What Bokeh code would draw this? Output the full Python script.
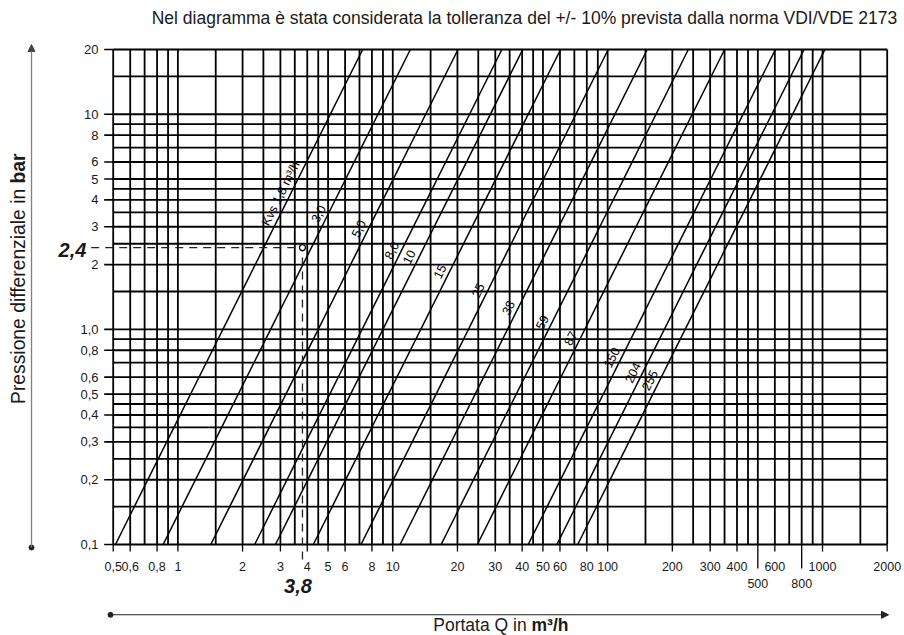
import math
from bokeh.plotting import figure
from bokeh.models import Range1d, Arrow, NormalHead, ColumnDataSource
from bokeh.core.properties import value
from bokeh.embed import file_html
from bokeh.resources import INLINE

# ---------------- data ----------------
title_text = "Nel diagramma è stata considerata la tolleranza del +/- 10% prevista dalla norma VDI/VDE 2173"
kvs = [1.8, 3.0, 5.0, 8.0, 10, 15, 25, 38, 59, 87, 150, 204, 255]
kvs_labels = ["Kvs 1,8 m³/h", "3,0", "5,0", "8,0", "10", "15", "25", "38", "59", "87", "150", "204", "255"]
tolerance = 0.10
label_dp = [4.28, 3.45, 2.94, 2.33, 2.17, 1.86, 1.52, 1.26, 1.08, 0.91, 0.74, 0.63, 0.58]

q_range = [0.5, 2000]
dp_range = [0.1, 20]

x_ticks = [0.5, 0.6, 0.8, 1, 2, 3, 4, 5, 6, 8, 10, 20, 30, 40, 50, 60, 80, 100,
           200, 300, 400, 600, 1000, 2000]
x_tick_labels = ["0,5", "0,6", "0,8", "1", "2", "3", "4", "5", "6", "8", "10", "20", "30",
                 "40", "50", "60", "80", "100", "200", "300", "400", "600", "1000", "2000"]
x_low_ticks = [500, 800]
x_low_labels = ["500", "800"]
y_ticks = [0.1, 0.2, 0.3, 0.4, 0.5, 0.6, 0.8, 1, 2, 3, 4, 5, 6, 8, 10, 20]
y_tick_labels = ["0,1", "0,2", "0,3", "0,4", "0,5", "0,6", "0,8", "1,0", "2", "3", "4",
                 "5", "6", "8", "10", "20"]
x_grid = [0.5, 0.6, 0.7, 0.8, 0.9, 1, 1.5, 2, 2.5, 3, 3.5, 4, 4.5, 5, 6, 7, 8, 9, 10,
          15, 20, 25, 30, 35, 40, 45, 50, 60, 70, 80, 90, 100, 150, 200, 250, 300, 350,
          400, 450, 500, 600, 700, 800, 900, 1000, 1500, 2000]
y_grid = [0.1, 0.15, 0.2, 0.25, 0.3, 0.35, 0.4, 0.45, 0.5, 0.6, 0.7, 0.8, 0.9, 1, 1.5,
          2, 2.5, 3, 3.5, 4, 4.5, 5, 6, 7, 8, 9, 10, 15, 20]
example_q = 3.8
example_dp = 2.4
example_q_label = "3,8"
example_dp_label = "2,4"
x_title = ["Portata Q in ", "m³/h"]
y_title = ["Pressione differenziale in ", "bar"]

# ---------------- layout (pixels) ----------------
W, H = 904, 635
GX0, GX1 = 112.7, 886.7      # pixel x of q_range ends
GY0, GY1 = 544.0, 49.0       # pixel y of dp_range ends
FONT = "Liberation Sans"
INK = "#1a1a1a"
q0, q1 = q_range
d0, d1 = dp_range


def xd(px):
    return q0 * (q1 / q0) ** ((px - GX0) / (GX1 - GX0))


def yd(py):
    return d0 * (d1 / d0) ** ((GY0 - py) / (GY0 - GY1))


p = figure(width=W, height=H, x_axis_type="log", y_axis_type="log",
           x_range=Range1d(xd(0), xd(W)), y_range=Range1d(yd(H), yd(0)),
           x_axis_location=None, y_axis_location=None, title=None,
           output_backend="svg", toolbar_location=None, min_border=0)
p.background_fill_color = "white"
p.border_fill_color = "white"
p.outline_line_color = None
p.grid.visible = False

# grid
p.segment(x0=x_grid, y0=[d0] * len(x_grid), x1=x_grid, y1=[d1] * len(x_grid),
          line_color="black", line_width=1.8)
p.segment(x0=[q0] * len(y_grid), y0=y_grid, x1=[q1] * len(y_grid), y1=y_grid,
          line_color="black", line_width=1.8)

# ticks
p.segment(x0=x_ticks, y0=[d0] * len(x_ticks), x1=x_ticks, y1=[yd(GY0 + 7)] * len(x_ticks),
          line_color="black", line_width=1.3)
p.segment(x0=x_low_ticks, y0=[d0] * 2, x1=x_low_ticks, y1=[yd(GY0 + 24)] * 2,
          line_color="black", line_width=1.3)
p.segment(x0=[q0] * len(y_ticks), y0=y_ticks, x1=[xd(GX0 - 9)] * len(y_ticks), y1=y_ticks,
          line_color="black", line_width=1.6)

tick_txt = dict(text_font=value(FONT), text_color=INK, text_baseline="middle")
p.text(x=x_ticks, y=[yd(566)] * len(x_ticks), text=x_tick_labels, text_align="center",
       text_font_size="12.5px", **tick_txt)
p.text(x=x_low_ticks, y=[yd(583)] * 2, text=x_low_labels, text_align="center",
       text_font_size="12.5px", **tick_txt)
p.text(x=[xd(98)] * len(y_ticks), y=y_ticks, text=y_tick_labels, text_align="right",
       text_font_size="13px", **tick_txt)

# Kvs lines (drawn with the -10% tolerance)
xs, ys = [], []
for kv in kvs:
    k = kv * (1 - tolerance)
    xs.append([k * math.sqrt(d0), k * math.sqrt(d1)])
    ys.append([d0, d1])
p.multi_line(xs=xs, ys=ys, line_color="black", line_width=1.5)

ang = math.atan2(2 * (GY0 - GY1) / math.log10(d1 / d0), (GX1 - GX0) / math.log10(q1 / q0))
lab_src = ColumnDataSource(dict(
    x=[kv * (1 - tolerance) * math.sqrt(d) for kv, d in zip(kvs, label_dp)],
    y=label_dp, t=kvs_labels))
p.text(x="x", y="y", text="t", source=lab_src, angle=ang, x_offset=-10,
       text_align="center", text_baseline="middle", text_font=value(FONT),
       text_font_size="12.5px", text_color="black")

# example reading 2,4 bar -> 3,8 m3/h
dash_kw = dict(line_color="#222222", line_width=1.3, line_dash="8 6")
p.line(x=[xd(90.7), example_q], y=[example_dp, example_dp], **dash_kw)
p.line(x=[example_q, example_q], y=[yd(559), example_dp], **dash_kw)
p.scatter(x=[example_q], y=[example_dp], size=6, marker="circle",
          fill_color="white", line_color="black", line_width=1.2)
bi = dict(text_font=value(FONT), text_font_style="bold italic", text_font_size="20px",
          text_color=INK, text_align="center", text_baseline="middle")
p.text(x=[xd(72)], y=[yd(249.5)], text=[example_dp_label], **bi)
p.text(x=[xd(297.5)], y=[yd(585.7)], text=[example_q_label], **bi)

# title
p.text(x=[xd(524)], y=[yd(17)], text=[title_text], text_font=value(FONT),
       text_font_size="17.5px", text_color=INK, text_align="center", text_baseline="middle")

# axis titles
lab = dict(text_font=value(FONT), text_color=INK, text_baseline="middle")
p.text(x=[xd(531)], y=[yd(624)], text=[x_title[0]], text_align="right",
       text_font_size="17.5px", **lab)
p.text(x=[xd(531)], y=[yd(624)], text=[x_title[1]], text_align="left",
       text_font_style="bold", text_font_size="17.5px", **lab)
p.text(x=[xd(18)], y=[yd(183)], text=[y_title[0]], angle=math.pi / 2, text_align="right",
       text_font_size="19.3px", **lab)
p.text(x=[xd(18)], y=[yd(183)], text=[y_title[1]], angle=math.pi / 2, text_align="left",
       text_font_style="bold", text_font_size="19.3px", **lab)

# axis arrows
p.add_layout(Arrow(x_start=xd(31), y_start=yd(547), x_end=xd(31), y_end=yd(44), start=None,
                   end=NormalHead(size=7, fill_color="#444444", line_color="#444444"),
                   line_color="#808080", line_width=1.3))
p.add_layout(Arrow(x_start=xd(110), y_start=yd(614.3), x_end=xd(888), y_end=yd(614.3), start=None,
                   end=NormalHead(size=7, fill_color="#222222", line_color="#222222"),
                   line_color="#222222", line_width=1.1))
p.scatter(x=[xd(31), xd(110)], y=[yd(547), yd(614.3)], size=5, marker="circle",
          fill_color="#222222", line_color="#222222")

open("out.html", "w").write(file_html(p, INLINE))
